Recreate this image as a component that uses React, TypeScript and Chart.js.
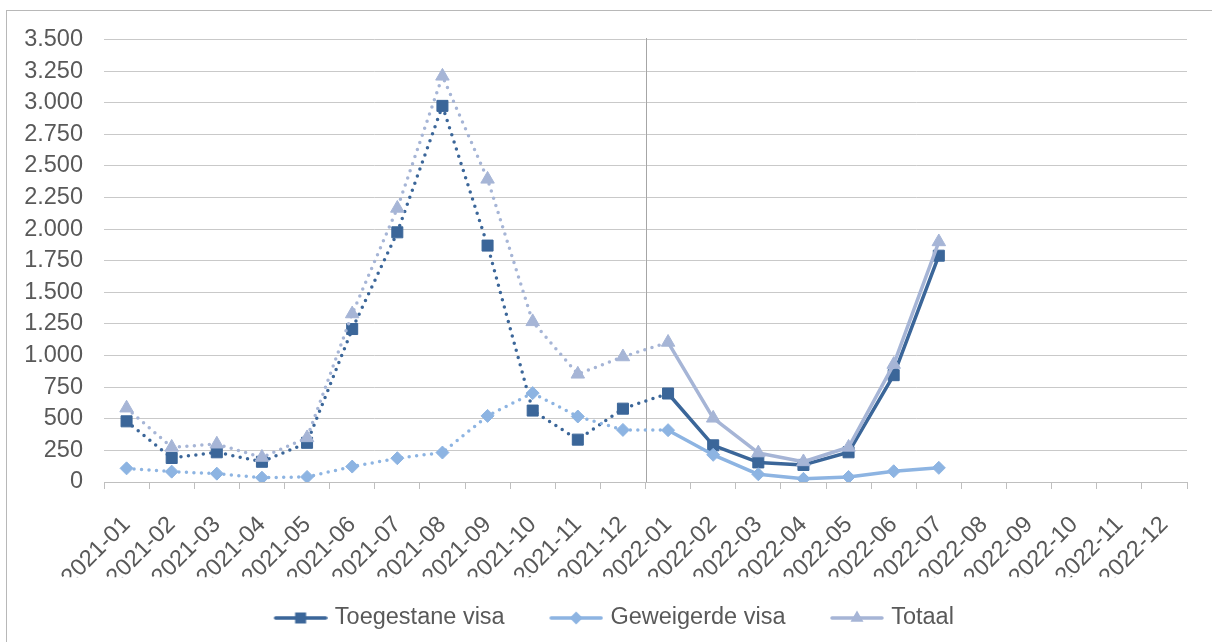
import React, { useEffect, useRef } from 'react';
import { Chart, registerables } from 'chart.js';

Chart.register(...registerables);

const months = [
  '2021-01', '2021-02', '2021-03', '2021-04', '2021-05', '2021-06',
  '2021-07', '2021-08', '2021-09', '2021-10', '2021-11', '2021-12',
  '2022-01', '2022-02', '2022-03', '2022-04', '2022-05', '2022-06',
  '2022-07', '2022-08', '2022-09', '2022-10', '2022-11', '2022-12',
];

const toegestaneVisa = [
  480, 190, 235, 160, 310, 1210, 1975, 2975, 1870, 565, 335, 580,
  700, 290, 155, 135, 235, 845, 1790, null, null, null, null, null,
];

const geweigerdeVisa = [
  108, 82, 66, 34, 40, 122, 188, 233, 523, 703, 518, 412,
  410, 215, 61, 25, 40, 85, 112, null, null, null, null, null,
];

const totaal = [
  585, 275, 300, 195, 350, 1330, 2165, 3210, 2395, 1268, 853, 990,
  1105, 505, 230, 160, 275, 930, 1900, null, null, null, null, null,
];

const seriesLabels = ['Toegestane visa', 'Geweigerde visa', 'Totaal'];
const firstSolidMonth = '2022-01';
const yMin = 0;
const yMax = 3500;
const yStep = 250;

const COLORS = ['#3B6699', '#8DB4E2', '#A6B5D6'];
const TEXT = '#595959';
const GRID = '#C9C9C9';
const FONT = { family: "'Liberation Sans', Arial, sans-serif", size: 23.5 };

const formatThousands = (v: number) =>
  String(Math.round(v)).replace(/\B(?=(\d{3})+(?!\d))/g, '.');

// legend symbol: a short line with the series marker in its middle
function makeLegendSymbol(color: string, style: string): HTMLCanvasElement {
  const c = document.createElement('canvas');
  c.width = 74;
  c.height = 18;
  const ctx = c.getContext('2d')!;
  const cx = 47;
  const cy = 9;
  ctx.strokeStyle = color;
  ctx.fillStyle = color;
  ctx.lineWidth = 3.5;
  ctx.lineCap = 'round';
  ctx.beginPath();
  ctx.moveTo(22, cy);
  ctx.lineTo(72, cy);
  ctx.stroke();
  ctx.beginPath();
  if (style === 'rect') {
    ctx.rect(cx - 5.5, cy - 5.5, 11, 11);
  } else if (style === 'rectRot') {
    ctx.moveTo(cx, cy - 6.5);
    ctx.lineTo(cx + 6.5, cy);
    ctx.lineTo(cx, cy + 6.5);
    ctx.lineTo(cx - 6.5, cy);
    ctx.closePath();
  } else {
    const r = 7.5;
    ctx.moveTo(cx, cy - r);
    ctx.lineTo(cx + r * Math.sin((2 * Math.PI) / 3), cy + r / 2);
    ctx.lineTo(cx - r * Math.sin((2 * Math.PI) / 3), cy + r / 2);
    ctx.closePath();
  }
  ctx.fill();
  return c;
}

const separatorPlugin = {
  id: 'separator',
  beforeDatasetsDraw(chart: any) {
    const xs = chart.scales.x;
    const idx = months.indexOf(firstSolidMonth);
    const px = Math.round((xs.getPixelForValue(idx - 1) + xs.getPixelForValue(idx)) / 2) + 0.5;
    const { top, bottom } = chart.chartArea;
    const ctx = chart.ctx;
    ctx.save();
    ctx.strokeStyle = '#A6A6A6';
    ctx.lineWidth = 1;
    ctx.beginPath();
    ctx.moveTo(px, top - 1.5);
    ctx.lineTo(px, bottom);
    ctx.stroke();
    ctx.restore();
  },
};

export default function App() {
  const canvasRef = useRef<HTMLCanvasElement | null>(null);

  useEffect(() => {
    if (!canvasRef.current) return;
    const solidFrom = months.indexOf(firstSolidMonth);
    const dotted = (ctx: any) => (ctx.p0DataIndex < solidFrom ? [0, 7.5] : undefined);
    const styles = ['rect', 'rectRot', 'triangle'];
    const radii = [7.8, 6.5, 7.8];
    const values = [toegestaneVisa, geweigerdeVisa, totaal];
    const orders = [2, 1, 0];
    const symbols = styles.map((s, i) => makeLegendSymbol(COLORS[i], s));

    const chart = new Chart(canvasRef.current, {
      type: 'line',
      data: {
        labels: months,
        datasets: values.map((data, i) => ({
          label: seriesLabels[i],
          data,
          order: orders[i],
          yAxisID: 'y',
          borderColor: COLORS[i],
          backgroundColor: COLORS[i],
          borderWidth: 3.5,
          borderCapStyle: 'round',
          borderJoinStyle: 'round',
          tension: 0,
          fill: false,
          pointStyle: styles[i],
          pointRadius: radii[i],
          pointHoverRadius: radii[i],
          pointBorderWidth: 1,
          pointBorderColor: COLORS[i],
          pointBackgroundColor: COLORS[i],
          spanGaps: false,
          segment: { borderDash: dotted },
        })) as any,
      },
      options: {
        responsive: false,
        animation: false,
        devicePixelRatio: 1,
        events: [],
        layout: { padding: { left: 0, right: 0, top: 39.5, bottom: 2.25 } },
        plugins: {
          tooltip: { enabled: false },
          legend: {
            display: true,
            position: 'bottom',
            labels: {
              usePointStyle: true,
              pointStyleWidth: 65,
              padding: 29,
              color: TEXT,
              font: FONT,
              generateLabels: (ch: any) =>
                ch.data.datasets.map((ds: any, i: number) => ({
                  text: ds.label,
                  pointStyle: symbols[i],
                  fillStyle: COLORS[i],
                  strokeStyle: COLORS[i],
                  lineWidth: 0,
                  hidden: false,
                  datasetIndex: i,
                  fontColor: TEXT,
                })),
            },
          },
        },
        scales: {
          x: {
            type: 'category',
            offset: true,
            grid: {
              offset: true,
              drawOnChartArea: false,
              drawTicks: true,
              tickLength: 7,
              color: '#BFBFBF',
            },
            border: { display: true, color: '#BFBFBF', width: 1 },
            ticks: {
              autoSkip: false,
              minRotation: 45,
              maxRotation: 45,
              padding: 22,
              color: TEXT,
              font: FONT,
            },
            afterFit: (s: any) => {
              s.height = 95.25;
            },
          },
          y: {
            position: 'left',
            min: yMin,
            max: yMax,
            grid: { color: GRID, drawTicks: false },
            border: { display: false },
            ticks: {
              stepSize: yStep,
              padding: 21,
              color: TEXT,
              font: FONT,
              callback: (v: any) => formatThousands(Number(v)),
            },
            afterFit: (s: any) => {
              s.width = 104;
            },
          },
          yRight: {
            type: 'linear',
            position: 'right',
            display: true,
            grid: { display: false, drawTicks: false },
            border: { display: false },
            ticks: { display: false },
            afterFit: (s: any) => {
              s.width = 25;
            },
          },
        },
      } as any,
      plugins: [separatorPlugin],
    });
    return () => chart.destroy();
  }, []);

  return (
    <div
      style={{
        position: 'fixed',
        left: 0,
        top: 0,
        width: 1212,
        height: 642,
        background: '#ffffff',
        overflow: 'hidden',
      }}
    >
      <div
        style={{
          position: 'absolute',
          left: 6,
          top: 10,
          width: 1230,
          height: 660,
          border: '1px solid #B8B8B8',
        }}
      />
      <canvas
        ref={canvasRef}
        width={1212}
        height={642}
        style={{ position: 'absolute', left: 0, top: 0, width: 1212, height: 642 }}
      />
    </div>
  );
}
